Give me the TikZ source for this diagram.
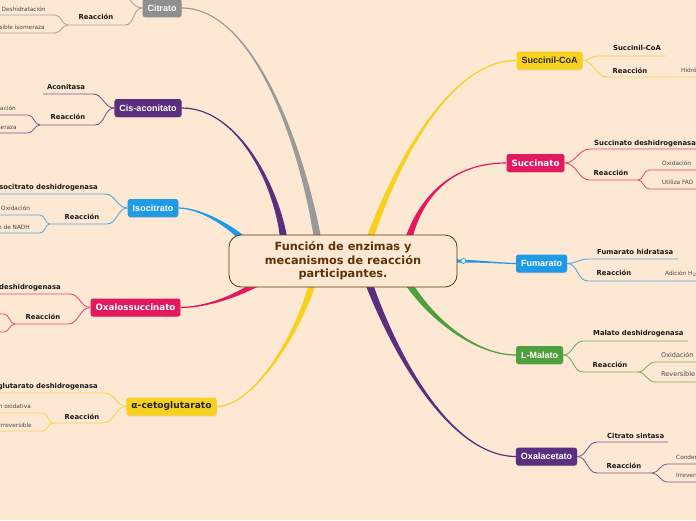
\documentclass[tikz,border=0pt]{standalone}
\usepackage{fontspec}
\setmainfont{DejaVu Sans}
\newfontfamily\arialfont{Liberation Sans}
\newfontfamily\verdfont{DejaVu Sans}
\usetikzlibrary{calc,shadows}
\pgfdeclarelayer{back}
\pgfsetlayers{back,main}
\definecolor{bgc}{HTML}{FDE8D3}
\definecolor{cgray}{HTML}{8F8F8F}
\definecolor{cpurp}{HTML}{5C2E7E}
\definecolor{cblue}{HTML}{1E9BE4}
\definecolor{cpink}{HTML}{E2195F}
\definecolor{cyell}{HTML}{F8D11F}
\definecolor{cgreen}{HTML}{4E9F3D}
\definecolor{cbrown}{HTML}{5E3308}
\newcommand\mmbranch[7]{%
  \fill[#1] ($(#2)+(#6)$) .. controls ($(#3)+0.6*(#6)$) and ($(#4)+(#7)$) .. ($(#5)+(#7)$)
    -- ($(#5)-(#7)$) .. controls ($(#4)-(#7)$) and ($(#3)-0.6*(#6)$) .. ($(#2)-(#6)$) -- cycle;}
\begin{document}
\begin{tikzpicture}[x=1pt,y=-1pt,
  centerbox/.style={draw=cbrown, line width=0.8pt, fill=bgc, rounded corners=12pt,
    minimum width=228pt, minimum height=52pt, align=center, text=cbrown, inner sep=0pt,
    font=\verdfont\bfseries\fontsize{11.3}{13.6}\selectfont},
  mainbox/.style={rounded corners=2.5pt, minimum height=18pt, inner xsep=5pt, inner ysep=0pt,
    text=white, font=\arialfont\bfseries\fontsize{9}{10}\selectfont,
    drop shadow={shadow xshift=0.4pt, shadow yshift=-0.9pt, opacity=0.22}},
  verd/.style={font=\verdfont\bfseries\fontsize{8.7}{10}\selectfont},
  lbl/.style={inner sep=0pt, font=\verdfont\bfseries\fontsize{6.85}{8}\selectfont, text=black!90},
  sub/.style={inner sep=0pt, font=\verdfont\fontsize{5.8}{7}\selectfont, text=black!72},
  subb/.style={inner sep=0pt, font=\verdfont\fontsize{6.5}{7}\selectfont, text=black!72},
  clink/.style={line width=0.9pt, draw=#1!78!bgc},
  glink/.style={line width=0.8pt, draw=#1!78!bgc}]
\useasboundingbox (0,0) rectangle (696,520);
\begin{pgfonlayer}{back}
\fill[bgc] (0,0) rectangle (696,520);
\end{pgfonlayer}

% center
\node[centerbox] (c) at (343,261) {Función de enzimas y\\mecanismos de reacción\\participantes.};

% main nodes
\node[mainbox, fill=cgray] (cit) at (162,8) {Citrato};
\node[mainbox, fill=cpurp] (cis) at (148,108) {Cis-aconitato};
\node[mainbox, fill=cblue] (iso) at (153,208) {Isocitrato};
\node[mainbox, verd, fill=cpink] (oxs) at (135.5,307.5) {Oxalossuccinato};
\node[mainbox, verd, fill=cyell, text=black!85, font=\verdfont\bfseries\fontsize{9.1}{10}\selectfont] (akg) at (171.5,406.5) {α-cetoglutarato};
\node[mainbox, fill=cyell, text=black!85] (scoa) at (549.5,60.5) {Succinil-CoA};
\node[mainbox, verd, fill=cpink] (suc) at (535.5,163) {Succinato};
\node[mainbox, fill=cblue] (fum) at (541.5,263.5) {Fumarato};
\node[mainbox, fill=cgreen] (mal) at (539.5,355) {L-Malato};
\node[mainbox, fill=cpurp] (oaa) at (546.5,456.5) {Oxalacetato};

\node[circle, draw=cblue, line width=0.7pt, fill=white, inner sep=0pt, minimum size=5pt] (gic) at (463.5,261) {};

% start points of main branches (inside the centre box)
\coordinate (sCit) at (318,241);
\coordinate (sCis) at (284,241);
\coordinate (sIso) at (250,246);
\coordinate (sOxs) at (264,279);
\coordinate (sAkg) at (313,281);
\coordinate (sScoa) at (369,241);
\coordinate (sSuc) at (408,241);
\coordinate (sFum) at (452,261);
\coordinate (sMal) at (407,281);
\coordinate (sOaa) at (368,281);

\begin{pgfonlayer}{back}
\mmbranch{cgray!90}{sCit}{303,150}{255,8}{cit.east}{3.7,0}{0,-0.6}
\mmbranch{cpurp}{sCis}{278,190}{240,108}{cis.east}{3.7,0}{0,-0.6}
\mmbranch{cblue}{sIso}{232,226}{200,208}{iso.east}{2.8,-2.4}{0,-0.6}
\mmbranch{cpink}{sOxs}{245,292}{212,307}{oxs.east}{-2.1,-3}{0,-0.6}
\mmbranch{cyell}{sAkg}{300,330}{255,406}{akg.east}{3.7,0}{0,0.6}
\mmbranch{cyell}{sScoa}{395,165}{450,60}{scoa.west}{3.7,0}{0,0.6}
\mmbranch{cpink}{sSuc}{418,205}{445,163}{suc.west}{3.7,0}{0,0.6}
\mmbranch{cblue}{sFum}{480,261}{495,263}{fum.west}{0,1.7}{0,0.6}
\mmbranch{cgreen}{sMal}{430,318}{475,355}{mal.west}{-3.1,1.8}{0,0.6}
\mmbranch{cpurp}{sOaa}{395,355}{450,456}{oaa.west}{-3.5,1.2}{0,0.6}
\end{pgfonlayer}

% ---------- Citrato
\coordinate (citA) at (118,-8);
\coordinate (citR) at (125,25);
\coordinate (citRj) at (68,25);
\draw[clink=cgray] (cit.west) to[out=180,in=0] (citA) -- ++(-90,0);
\draw[clink=cgray] (cit.west) to[out=180,in=0] (citR) -- (citRj);
\node[lbl] (citRl) at (96,17) {Reacción};
\draw[glink=cgray] (citRj) to[out=180,in=0] (55,15) -- (-5,15);
\draw[glink=cgray] (citRj) to[out=180,in=0] (55,33) -- (-5,33);
\node[sub, anchor=mid west] (citg1) at (1.5,9) {Deshidratación};
\node[sub, anchor=mid east] (citg2) at (45,27) {Reversible isomeraza};

% ---------- Cis-aconitato
\coordinate (cisA) at (93,94);
\coordinate (cisR) at (95,125);
\coordinate (cisRj) at (40,125);
\draw[clink=cpurp] (cis.west) to[out=180,in=0] (cisA) -- (43,94);
\node[lbl] (cisAl) at (66,87) {Aconitasa};
\draw[clink=cpurp] (cis.west) to[out=180,in=0] (cisR) -- (cisRj);
\node[lbl] (cisRl) at (68,117) {Reacción};
\draw[glink=cpurp] (cisRj) to[out=180,in=0] (28,115) -- (-5,115);
\draw[glink=cpurp] (cisRj) to[out=180,in=0] (28,133) -- (-5,133);
\node[sub, anchor=mid east] (cisg1) at (16,108) {Hidratación};
\node[sub, anchor=mid east] (cisg2) at (17,127) {Isomeraza};

% ---------- Isocitrato
\coordinate (isoA) at (105,194);
\coordinate (isoR) at (107,224);
\coordinate (isoRj) at (50,224);
\draw[clink=cblue] (iso.west) to[out=180,in=0] (isoA) -- (-5,194);
\node[lbl, anchor=mid east] (isoAl) at (98,187) {Isocitrato deshidrogenasa};
\draw[clink=cblue] (iso.west) to[out=180,in=0] (isoR) -- (isoRj);
\node[lbl] (isoRl) at (82,217) {Reacción};
\draw[glink=cblue] (isoRj) to[out=180,in=0] (40,215) -- (-5,215);
\draw[glink=cblue] (isoRj) to[out=180,in=0] (40,233) -- (-5,233);
\node[sub, anchor=mid west] (isog1) at (1,208) {Oxidación};
\node[sub, anchor=mid east] (isog2) at (30,227) {Producción de NADH};

% ---------- Oxalossuccinato
\coordinate (oxsA) at (70,294);
\coordinate (oxsR) at (68,324);
\coordinate (oxsRj) at (15,324);
\draw[clink=cpink] (oxs.west) to[out=180,in=0] (oxsA) -- (-5,294);
\node[lbl, anchor=mid east] (oxsAl) at (61,287) {Isocitrato deshidrogenasa};
\draw[clink=cpink] (oxs.west) to[out=180,in=0] (oxsR) -- (oxsRj);
\node[lbl] (oxsRl) at (43,317) {Reacción};
\draw[glink=cpink] (oxsRj) to[out=180,in=0] (4,314) -- (-5,314);
\draw[glink=cpink] (oxsRj) to[out=180,in=0] (4,332) -- (-5,332);

% ---------- alpha-cetoglutarato
\coordinate (akgA) at (105,393);
\coordinate (akgR) at (103,423);
\coordinate (akgRj) at (53,423);
\draw[clink=cyell] (akg.west) to[out=180,in=0] (akgA) -- (-5,393);
\node[lbl, anchor=mid east] (akgAl) at (98,386) {α-cetoglutarato deshidrogenasa};
\draw[clink=cyell] (akg.west) to[out=180,in=0] (akgR) -- (akgRj);
\node[lbl] (akgRl) at (82,417) {Reacción};
\draw[glink=cyell] (akgRj) to[out=180,in=0] (43,413) -- (-5,413);
\draw[glink=cyell] (akgRj) to[out=180,in=0] (43,431) -- (-5,431);
\node[sub, anchor=mid east] (akgg1) at (31,406) {Descarboxilación oxidativa};
\node[sub, anchor=mid east] (akgg2) at (32,425) {Irreversible};

% ---------- Succinil-CoA
\coordinate (scoaA) at (598,56);
\coordinate (scoaR) at (607,77);
\draw[clink=cyell] (scoa.east) to[out=0,in=180] (scoaA) -- (666,56);
\node[lbl] (scoaAl) at (637,48) {Succinil-CoA};
\draw[clink=cyell] (scoa.east) to[out=0,in=180] (scoaR) -- (701,77);
\node[lbl] (scoaRl) at (630,71) {Reacción};
\node[sub, anchor=mid west] (scoag1) at (681,70) {Hidrólisis};

% ---------- Succinato
\coordinate (sucA) at (590,149);
\coordinate (sucR) at (590,180);
\coordinate (sucRj) at (638,180);
\draw[clink=cpink] (suc.east) to[out=0,in=180] (sucA) -- (701,149);
\node[lbl, anchor=mid west] (sucAl) at (594,143) {Succinato deshidrogenasa};
\draw[clink=cpink] (suc.east) to[out=0,in=180] (sucR) -- (sucRj);
\node[lbl] (sucRl) at (611,173) {Reacción};
\draw[glink=cpink] (sucRj) to[out=0,in=180] (649,170) -- (701,170);
\draw[glink=cpink] (sucRj) to[out=0,in=180] (649,189) -- (701,189);
\node[sub, anchor=mid west] (sucg1) at (662,163) {Oxidación};
\node[sub, anchor=mid west] (sucg2) at (662,182) {Utiliza FAD};

% ---------- Fumarato
\coordinate (fumA) at (588,259);
\coordinate (fumR) at (588,281);
\draw[clink=cblue] (fum.east) to[out=0,in=180] (fumA) -- (678,259);
\node[lbl, anchor=mid west] (fumAl) at (597,252) {Fumarato hidratasa};
\draw[clink=cblue] (fum.east) to[out=0,in=180] (fumR) -- (701,281);
\node[lbl] (fumRl) at (614,273) {Reacción};
\node[sub, anchor=mid west] (fumg1) at (665,273) {Adición H$_2$O};

% ---------- L-Malato
\coordinate (malA) at (583,341);
\coordinate (malR) at (583,372);
\coordinate (malRj) at (638,372);
\draw[clink=cgreen] (mal.east) to[out=0,in=180] (malA) -- (688,341);
\node[lbl, anchor=mid west] (malAl) at (593,333) {Malato deshidrogenasa};
\draw[clink=cgreen] (mal.east) to[out=0,in=180] (malR) -- (malRj);
\node[lbl] (malRl) at (610,365) {Reacción};
\draw[glink=cgreen] (malRj) to[out=0,in=180] (655,362) -- (701,362);
\draw[glink=cgreen] (malRj) to[out=0,in=180] (655,382) -- (701,382);
\node[subb, anchor=mid west] (malg1) at (661,355) {Oxidación};
\node[subb, anchor=mid west] (malg2) at (661,374) {Reversible};

% ---------- Oxalacetato
\coordinate (oaaA) at (597,442);
\coordinate (oaaR) at (597,473);
\coordinate (oaaRj) at (652,473);
\draw[clink=cpurp] (oaa.east) to[out=0,in=180] (oaaA) -- (668,442);
\node[lbl, anchor=mid west] (oaaAl) at (607,436) {Citrato sintasa};
\draw[clink=cpurp] (oaa.east) to[out=0,in=180] (oaaR) -- (oaaRj);
\node[lbl] (oaaRl) at (624,466) {Reacción};
\draw[glink=cpurp] (oaaRj) to[out=0,in=180] (667,464) -- (701,464);
\draw[glink=cpurp] (oaaRj) to[out=0,in=180] (667,482) -- (701,482);
\node[sub, anchor=mid west] (oaag1) at (676,457) {Condensación};
\node[sub, anchor=mid west] (oaag2) at (676,475) {Irreversible};
\end{tikzpicture}
\end{document}
